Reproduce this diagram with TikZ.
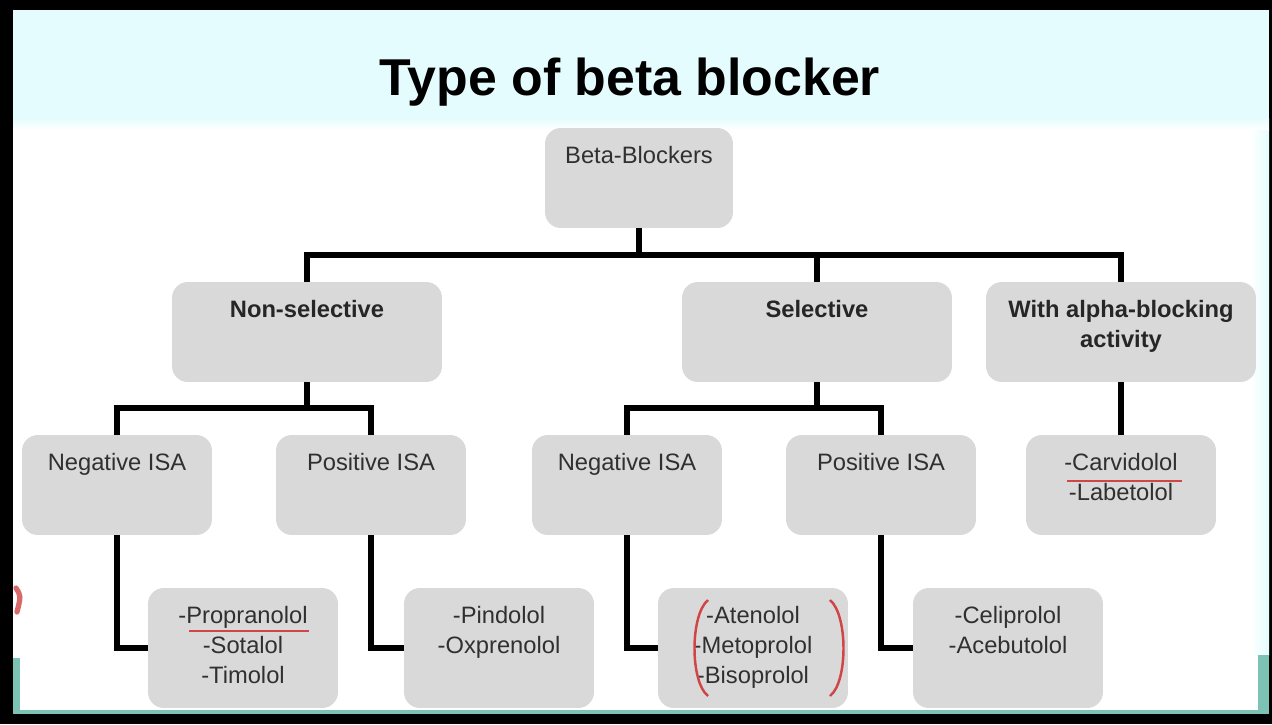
\documentclass[tikz,border=0pt]{standalone}
\usepackage{fontspec}
\setmainfont{Liberation Sans}
\definecolor{boxgray}{HTML}{D9D9D9}
\definecolor{txtgray}{HTML}{303030}
\definecolor{topcyan}{HTML}{E4FCFD}
\definecolor{stripteal}{HTML}{7CC3B5}
\definecolor{markred}{HTML}{D04545}
\begin{document}
\begin{tikzpicture}[x=0.02cm, y=-0.02cm,
    blk/.style={rounded corners=9pt, fill=boxgray, inner sep=0pt, text=txtgray,
        font=\fontsize{13.5}{17}\selectfont, align=center, text height=0.7cm},
    wide/.style={blk, minimum width=5.4cm, minimum height=2cm, text depth=1.3cm},
    small/.style={blk, minimum width=3.8cm, minimum height=2cm, text depth=1.3cm},
    list/.style={blk, minimum width=3.8cm, minimum height=2.4cm, text depth=1.7cm},
    bold/.style={font=\bfseries\fontsize{13.5}{17}\selectfont, text=black!85},
    two/.style={text height=1.3cm, text depth=#1},
    three/.style={text height=1.9cm, text depth=0.5cm},
    link/.style={line width=3.4pt, black},
    redline/.style={line width=1.4pt, markred}]
    % Rama i tlo
    \fill[black] (0,0) rectangle (1272,724);
    \fill[white] (13,10) rectangle (1269,714);
    \fill[topcyan] (13,10) rectangle (1269,118);
    \shade[top color=topcyan, bottom color=white] (13,118) rectangle (1269,130);
    \shade[left color=white, right color=topcyan] (1250,130) rectangle (1269,655);
    \fill[stripteal] (13,658) rectangle (20,714);
    \fill[stripteal] (1258,655) rectangle (1269,714);
    \fill[stripteal] (20,710) rectangle (1258,714);
    \draw[line width=3pt, markred!80, line cap=round] (16,588) .. controls (21,596) .. (17,612);

    % Tytul
    \node[font=\bfseries\fontsize{29.5}{34}\selectfont] (title) at (630,82) {Type of beta blocker};

    % Korzen
    \node[blk, minimum width=3.76cm, minimum height=2cm, text depth=1.3cm] (root) at (639,178) {Beta-Blockers};

    % Grupy glowne
    \node[wide, bold] (nonsel) at (307,332) {Non-selective};
    \node[wide, bold] (sel) at (817,332) {Selective};
    \node[wide, bold, two=0.7cm] (alpha) at (1121,332) {With alpha-blocking\\activity};

    % Podgrupy ISA
    \node[small] (neg1) at (117,485) {Negative ISA};
    \node[small] (pos1) at (371,485) {Positive ISA};
    \node[small] (neg2) at (627,485) {Negative ISA};
    \node[small] (pos2) at (881,485) {Positive ISA};
    \node[small, two=0.7cm] (carv) at (1121,485) {-Carvidolol\\-Labetolol};

    % Leki
    \node[list, three] (prop) at (243,648) {-Propranolol\\-Sotalol\\-Timolol};
    \node[list, two=1.1cm] (pind) at (499,648) {-Pindolol\\-Oxprenolol};
    \node[list, three] (aten) at (753,648) {-Atenolol\\-Metoprolol\\-Bisoprolol};
    \node[list, two=1.1cm] (celi) at (1008,648) {-Celiprolol\\-Acebutolol};

    % Polaczenia drzewa
    \draw[link] (root.south) -- ++(0,27) coordinate (j0);
    \draw[link] (j0) -| (nonsel.north);
    \draw[link] (j0) -| (sel.north);
    \draw[link] (j0) -| (alpha.north);
    \draw[link] (nonsel.south) -- ++(0,26) coordinate (j1);
    \draw[link] (j1) -| (neg1.north);
    \draw[link] (j1) -| (pos1.north);
    \draw[link] (sel.south) -- ++(0,26) coordinate (j2);
    \draw[link] (j2) -| (neg2.north);
    \draw[link] (j2) -| (pos2.north);
    \draw[link] (alpha.south) -- (carv.north);

    % Polaczenia do lekow
    \draw[link] (neg1.south) |- (prop.west);
    \draw[link] (pos1.south) |- (pind.west);
    \draw[link] (neg2.south) |- (aten.west);
    \draw[link] (pos2.south) |- (celi.west);

    % Czerwone zaznaczenia
    \draw[redline] (189,631) -- (309,631);
    \draw[redline] (1067,481) -- (1182,481);
    \draw[redline] (708,600) .. controls (690,615) and (690,682) .. (708,696);
    \draw[redline] (830,600) .. controls (848,615) and (848,682) .. (830,696);
\end{tikzpicture}
\end{document}
